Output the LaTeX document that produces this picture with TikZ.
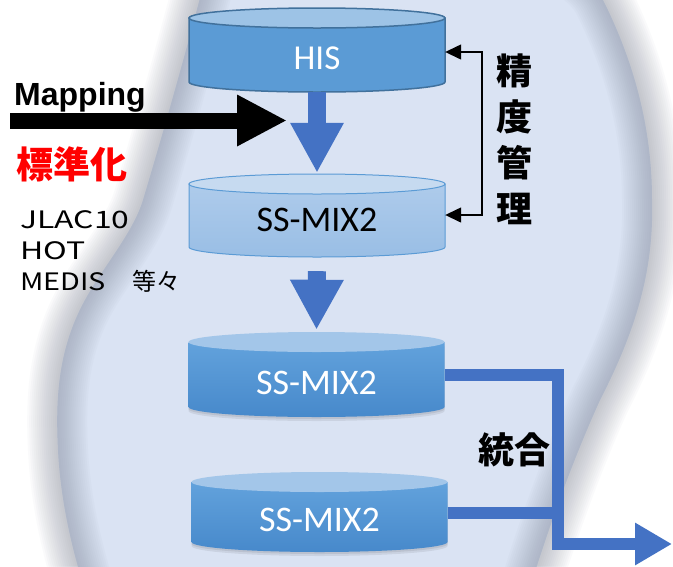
\documentclass[tikz,border=0pt]{standalone}
\usepackage{fontspec}
\usetikzlibrary{arrows.meta}
\newfontfamily\jp{Noto Sans CJK JP}
\newfontfamily\calib{Carlito}
\newfontfamily\arial{Liberation Sans}
\definecolor{bgblue}{HTML}{DAE3F3}
\definecolor{bandgray}{HTML}{7F8799}
\definecolor{accblue}{HTML}{5B9BD5}
\definecolor{darkblue}{HTML}{41719C}
\definecolor{arrowblue}{HTML}{4472C4}
\definecolor{lighttop}{HTML}{9DC3E6}
\definecolor{paletop}{HTML}{C6DAF0}
\definecolor{palebodyA}{HTML}{AECBEB}
\definecolor{palebodyB}{HTML}{99BEE5}
\definecolor{deepbodyA}{HTML}{62A2DC}
\definecolor{deepbodyB}{HTML}{4789CB}
\definecolor{deeptop}{HTML}{A3C6E9}
\newcommand{\blobpath}[1]{\path[#1] (215,-60) .. controls (193,27) and (169,113) .. (143,200)
  .. controls (133,233) and (103,267) .. (85,300)
  .. controls (57.5,350) and (55.5,400) .. (58,450)
  .. controls (61.5,520) and (82,590) .. (110,660)
  .. controls (134,720) and (488,700) .. (520,620)
  .. controls (542,547) and (567,473) .. (600,400)
  .. controls (636,330) and (654,270) .. (652,200)
  .. controls (652,133) and (636.5,67) .. (603,0)
  .. controls (563,-80) and (235,-140) .. (215,-60) -- cycle;}
\newcommand{\cylbody}[4]{\path[#4] ({#1-128},#2) -- ({#1-128},#3) arc[start angle=180,end angle=360,x radius=128pt,y radius=10pt] -- ({#1+128},#2) -- cycle;}
\newcommand{\cyltop}[3]{\path[#3] (#1,#2) ellipse[x radius=128pt,y radius=10pt];}
\begin{document}
\begin{tikzpicture}[x=1pt,y=-1pt,
  cylbox/.style={minimum width=256pt,inner sep=0pt,draw=none},
  bigarrow/.style={draw=arrowblue,line width=18pt,-{Triangle[length=50pt,width=50pt]},arrowblue},
  mergeline/.style={draw=arrowblue,line width=12pt,line join=miter},
  bracketline/.style={draw=black,line width=1.4pt,{Triangle[length=16pt,width=15pt]}-{Triangle[length=16pt,width=15pt]}},
  lbl/.style={inner sep=0pt},
  codefont/.style={font=\jp\fontsize{24}{28}\selectfont},
]
\useasboundingbox (0,0) rectangle (673,566);
\clip (0,0) rectangle (673,566);
\fill[white] (0,0) rectangle (673,566);
% background blob with soft edge
\blobpath{fill=bgblue}
\foreach \w in {60,56,...,4}{\blobpath{draw=bandgray,line width=\w pt,opacity=0.034}}

% cylinders (named boxes)
\node[cylbox,minimum height=84pt] (his) at (317,50) {};
\node[cylbox,minimum height=85pt] (ss1) at (317,215.5) {};
\node[cylbox,minimum height=85pt] (ss2) at (316.5,374.5) {};
\node[cylbox,minimum height=81pt] (ss3) at (319.5,512.5) {};

% HIS
\cylbody{317}{18}{82}{fill=accblue,draw=darkblue,line width=1.5pt}
\cyltop{317}{18}{fill=lighttop,draw=darkblue,line width=1.5pt}
% SS-MIX2 (pale)
\cylbody{317}{184}{247}{top color=palebodyA,bottom color=palebodyB,draw=accblue,line width=1pt}
\cyltop{317}{184}{fill=paletop,draw=accblue,line width=1pt}
% SS-MIX2 (deep) with soft shadow
\begin{scope}[yshift=-4pt]
\cylbody{316.5}{342}{407}{fill=black,opacity=0.07}
\end{scope}
\begin{scope}[yshift=-2pt]
\cylbody{316.5}{342}{407}{fill=black,opacity=0.08}
\end{scope}
\cylbody{316.5}{342}{407}{top color=deepbodyA,bottom color=deepbodyB}
\cyltop{316.5}{342}{fill=deeptop}
\begin{scope}[yshift=-4pt]
\cylbody{319.5}{482}{542}{fill=black,opacity=0.07}
\end{scope}
\begin{scope}[yshift=-2pt]
\cylbody{319.5}{482}{542}{fill=black,opacity=0.08}
\end{scope}
\cylbody{319.5}{482}{542}{top color=deepbodyA,bottom color=deepbodyB}
\cyltop{319.5}{482}{fill=deeptop}

% cylinder labels
\node[lbl,text=white,font=\calib\fontsize{35}{40}\selectfont] (hislbl) at (317,58) {HIS};
\node[lbl,text=black,font=\calib\fontsize{36}{40}\selectfont] (ss1lbl) at (317,220) {SS-MIX2};
\node[lbl,text=white,font=\calib\fontsize{36}{40}\selectfont] (ss2lbl) at (316.5,383) {SS-MIX2};
\node[lbl,text=white,font=\calib\fontsize{36}{40}\selectfont] (ss3lbl) at (319.5,520) {SS-MIX2};

% flow arrows
\draw[bigarrow] (his.south) -- (ss1.north);
\draw[bigarrow,shorten <=13pt,shorten >=2pt] (ss1.south) -- (ss2.north);

% mapping arrow
\coordinate (mapstart) at (10,120.5);
\coordinate (mapend) at (287,120.5);
\draw[line width=16pt,-{Triangle[length=50pt,width=48pt]}] (mapstart) -- (mapend);
\node[lbl,anchor=base west,font=\arial\bfseries\fontsize{32}{36}\selectfont] (mapping) at (14,105) {Mapping};
\node[lbl,text=red,font=\jp\bfseries\fontsize{37}{40}\selectfont] (hyojun) at (72,164) {標準化};
\node[lbl,anchor=base west,codefont,xscale=1.33] (jlac) at (20,228) {JLAC10};
\node[lbl,anchor=base west,codefont,xscale=1.33] (hot) at (20,259) {HOT};
\node[lbl,anchor=base west,codefont,xscale=1.2] (medis) at (20,290) {MEDIS};
\node[lbl,anchor=base west,codefont] (etc) at (132,290) {等々};

% accuracy management bracket
\coordinate (bt) at (482,52);
\coordinate (bb) at (482,215);
\draw[bracketline] (his.east |- bt) -- (bt) -- (bb) -- (ss1.east |- bb);
\node[lbl,align=center,font=\jp\bfseries\fontsize{36}{46}\selectfont] (seido) at (514,139) {精\\度\\管\\理};

% merge connectors
\coordinate (bend) at (558,544);
\coordinate (out) at (672,544);
\draw[mergeline,-{Triangle[length=37pt,width=40pt]}] (ss2.east) -| (bend) -- (out);
\draw[mergeline] (ss3.east) -- (ss3.east -| bend);
\node[lbl,font=\jp\bfseries\fontsize{36}{40}\selectfont] (togo) at (514,450) {統合};
\end{tikzpicture}
\end{document}
